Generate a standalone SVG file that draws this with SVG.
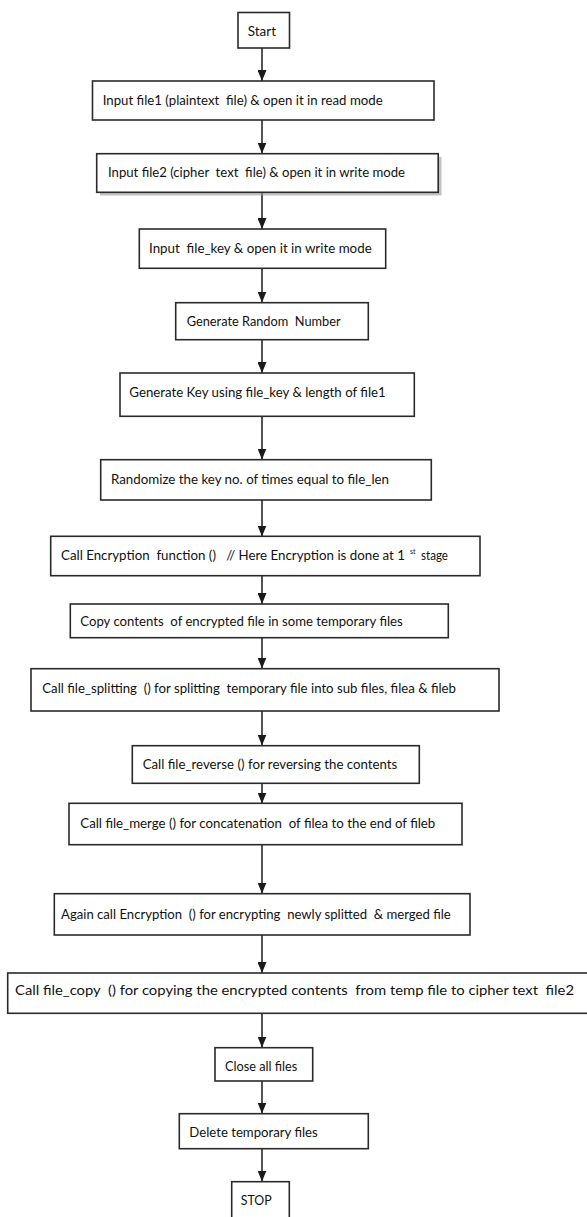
<svg xmlns="http://www.w3.org/2000/svg" width="587" height="1217" viewBox="0 0 587 1217">
<style>
.box{fill:#fff;stroke:#2a2a2a;stroke-width:1.6}
.shadow{fill:#9a9a9a;opacity:0.6}
.t{font-family:"Lato","Liberation Sans",sans-serif;font-size:14px;fill:#111}
.sup{font-family:"Lato","Liberation Sans",sans-serif;font-size:7.5px;fill:#111}
.c{stroke:#1a1a1a;stroke-width:1.5;fill:none;marker-end:url(#ah)}
</style>
<defs>
<marker id="ah" markerWidth="11" markerHeight="9" refX="11" refY="4.5" orient="auto" markerUnits="userSpaceOnUse" viewBox="0 0 11 9">
<path d="M0,0 L11,4.5 L0,9 Z" fill="#1a1a1a"/>
</marker>
</defs>
<rect width="587" height="1217" fill="#fff"/>
<g id="connectors">
<line class="c" x1="262" y1="48" x2="262" y2="81"/>
<line class="c" x1="262" y1="120" x2="262" y2="153.5"/>
<line class="c" x1="262" y1="192.5" x2="262" y2="229"/>
<line class="c" x1="262" y1="268.5" x2="262" y2="302.5"/>
<line class="c" x1="262" y1="340" x2="262" y2="373"/>
<line class="c" x1="262" y1="416.5" x2="262" y2="459.5"/>
<line class="c" x1="262" y1="500" x2="262" y2="536.5"/>
<line class="c" x1="262" y1="576" x2="262" y2="604"/>
<line class="c" x1="262" y1="638" x2="262" y2="668.5"/>
<line class="c" x1="262" y1="711" x2="262" y2="745.5"/>
<line class="c" x1="262" y1="783.5" x2="262" y2="803.5"/>
<line class="c" x1="262" y1="845" x2="262" y2="893.5"/>
<line class="c" x1="262" y1="935" x2="262" y2="973"/>
<line class="c" x1="262" y1="1013.5" x2="262" y2="1047.5"/>
<line class="c" x1="262" y1="1081" x2="262" y2="1113.5"/>
<line class="c" x1="262" y1="1149" x2="262" y2="1181.5"/>
</g>
<g id="n0"><rect class="box" x="238" y="12.5" width="51.5" height="35.5"/><text class="t" x="247.7" y="36" textLength="28.3" lengthAdjust="spacingAndGlyphs">Start</text></g>
<g id="n1"><rect class="box" x="92.5" y="81" width="341.5" height="39"/><text class="t" x="102.7" y="104.5" textLength="280" lengthAdjust="spacingAndGlyphs" xml:space="preserve">Input file1 (plaintext  file) &amp; open it in read mode</text></g>
<g id="n2"><rect class="shadow" x="100" y="157" width="341.5" height="38.5"/><rect class="box" x="96.7" y="153.7" width="341.5" height="38.6"/><text class="t" x="108" y="176.5" textLength="297" lengthAdjust="spacingAndGlyphs" xml:space="preserve">Input file2 (cipher  text  file) &amp; open it in write mode</text></g>
<g id="n3"><rect class="box" x="139.3" y="229" width="246.4" height="39.3"/><text class="t" x="149" y="252.5" textLength="222.7" lengthAdjust="spacingAndGlyphs" xml:space="preserve">Input  file_key &amp; open it in write mode</text></g>
<g id="n4"><rect class="box" x="175.7" y="302.7" width="192.6" height="37"/><text class="t" x="186.7" y="325.5" textLength="154" lengthAdjust="spacingAndGlyphs" xml:space="preserve">Generate Random  Number</text></g>
<g id="n5"><rect class="box" x="120" y="373" width="294.3" height="43.3"/><text class="t" x="129.3" y="397" textLength="256.4" lengthAdjust="spacingAndGlyphs">Generate Key using file_key &amp; length of file1</text></g>
<g id="n6"><rect class="box" x="100.7" y="459.7" width="330.6" height="40.3"/><text class="t" x="111" y="484" textLength="278" lengthAdjust="spacingAndGlyphs">Randomize the key no. of times equal to file_len</text></g>
<g id="n7"><rect class="box" x="50.7" y="536.3" width="429.3" height="39.4"/><text class="t" x="61" y="560" font-size="12.6" textLength="344" lengthAdjust="spacingAndGlyphs" xml:space="preserve">Call Encryption  function ()   // Here Encryption is done at 1</text><text class="sup" x="410" y="554" textLength="5.5" lengthAdjust="spacingAndGlyphs">st</text><text class="t" x="421" y="560" textLength="27" lengthAdjust="spacingAndGlyphs">stage</text></g>
<g id="n8"><rect class="box" x="70.3" y="604" width="378" height="33.7"/><text class="t" x="80.3" y="625.5" textLength="322.4" lengthAdjust="spacingAndGlyphs" xml:space="preserve">Copy contents  of encrypted file in some temporary files</text></g>
<g id="n9"><rect class="box" x="31" y="668.7" width="468" height="42.3"/><text class="t" x="42.3" y="693" textLength="413.7" lengthAdjust="spacingAndGlyphs" xml:space="preserve">Call file_splitting  () for splitting  temporary file into sub files, filea &amp; fileb</text></g>
<g id="n10"><rect class="box" x="132.3" y="745.7" width="287" height="37.6"/><text class="t" x="142.7" y="768.5" textLength="254.6" lengthAdjust="spacingAndGlyphs">Call file_reverse () for reversing the contents</text></g>
<g id="n11"><rect class="box" x="69" y="803.3" width="393" height="41.4"/><text class="t" x="80.3" y="827.5" textLength="355" lengthAdjust="spacingAndGlyphs" xml:space="preserve">Call file_merge () for concatenation  of filea to the end of fileb</text></g>
<g id="n12"><rect class="box" x="54.3" y="893.7" width="415.7" height="41.3"/><text class="t" x="61" y="919" textLength="389.7" lengthAdjust="spacingAndGlyphs" xml:space="preserve">Again call Encryption  () for encrypting  newly splitted  &amp; merged file</text></g>
<g id="n13"><rect class="box" x="7.7" y="973" width="585" height="40.3"/><text class="t" x="15" y="994.5" textLength="559" lengthAdjust="spacingAndGlyphs" xml:space="preserve">Call file_copy  () for copying the encrypted contents  from temp file to cipher text  file2</text></g>
<g id="n14"><rect class="box" x="215" y="1047.7" width="97.7" height="33.3"/><text class="t" x="225" y="1071" textLength="72.3" lengthAdjust="spacingAndGlyphs">Close all files</text></g>
<g id="n15"><rect class="box" x="179.3" y="1113.7" width="189" height="35"/><text class="t" x="189.3" y="1137" textLength="128.4" lengthAdjust="spacingAndGlyphs">Delete temporary files</text></g>
<g id="n16"><rect class="box" x="231.7" y="1181.7" width="57.6" height="45"/><text class="t" x="240.7" y="1204.5" textLength="31" lengthAdjust="spacingAndGlyphs">STOP</text></g>
</svg>
